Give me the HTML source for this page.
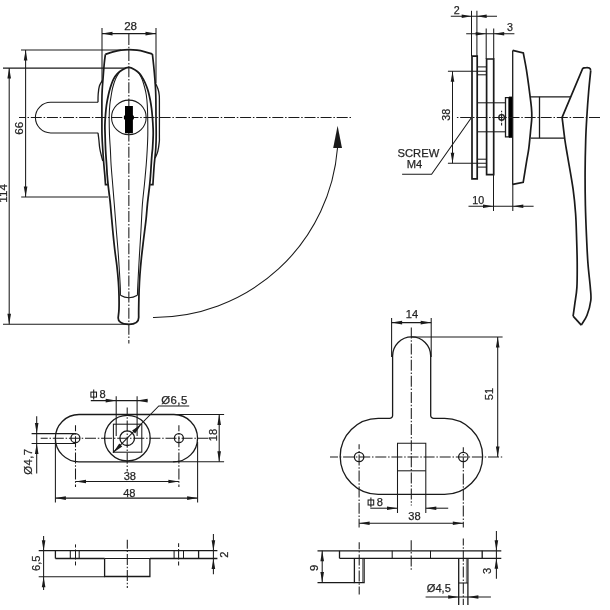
<!DOCTYPE html>
<html><head><meta charset="utf-8"><title>Handle drawing</title>
<style>
html,body{margin:0;padding:0;background:#fff;}
body{width:610px;height:610px;overflow:hidden;}
svg{display:block;filter:grayscale(1);}
svg text{font-family:"Liberation Sans",Arial,sans-serif;fill:#1c241c;stroke:#1c241c;stroke-width:0.25px;}
</style></head><body>
<svg width="610" height="610" viewBox="0 0 610 610" stroke="#1a1a1a" fill="none" stroke-linecap="butt">
<rect x="0" y="0" width="610" height="610" fill="#fff" stroke="none"/>
<!-- handle front view -->
<line x1="102" y1="28" x2="102" y2="83" stroke-width="1.05" />
<line x1="156" y1="28" x2="156" y2="83" stroke-width="1.05" />
<line x1="102" y1="33.6" x2="156" y2="33.6" stroke-width="1.05" />
<polygon points="102.00,33.60 112.50,35.40 112.50,31.80" fill="#1a1a1a" stroke="none"/>
<polygon points="156.00,33.60 145.50,31.80 145.50,35.40" fill="#1a1a1a" stroke="none"/>
<text x="130.6" y="29.7" font-size="11.6" text-anchor="middle">28</text>
<line x1="128.85" y1="34" x2="128.85" y2="343.6" stroke-width="1.05" stroke-dasharray="11 1.8 1.5 1.8" stroke-dashoffset="0"/>
<line x1="19" y1="117.4" x2="352.3" y2="117.4" stroke-width="1.05" stroke-dasharray="11 1.8 1.5 1.8" stroke-dashoffset="4.3"/>
<line x1="21" y1="49.9" x2="121" y2="49.9" stroke-width="1.05" />
<line x1="3" y1="68.1" x2="126" y2="68.1" stroke-width="1.05" />
<line x1="21.2" y1="196.9" x2="108" y2="196.9" stroke-width="1.05" />
<line x1="3" y1="324.3" x2="128" y2="324.3" stroke-width="1.05" />
<line x1="25.6" y1="49.9" x2="25.6" y2="196.9" stroke-width="1.05" />
<polygon points="25.60,49.90 23.80,60.40 27.40,60.40" fill="#1a1a1a" stroke="none"/>
<polygon points="25.60,196.90 27.40,186.40 23.80,186.40" fill="#1a1a1a" stroke="none"/>
<text x="23.2" y="128.3" font-size="11.6" text-anchor="middle" transform="rotate(-90 23.2 128.3)">66</text>
<line x1="9.2" y1="68.1" x2="9.2" y2="324.3" stroke-width="1.05" />
<polygon points="9.20,68.10 7.40,78.60 11.00,78.60" fill="#1a1a1a" stroke="none"/>
<polygon points="9.20,324.30 11.00,313.80 7.40,313.80" fill="#1a1a1a" stroke="none"/>
<text x="6.9" y="193.4" font-size="11.6" text-anchor="middle" transform="rotate(-90 6.9 193.4)">114</text>
<path d="M105.40,54.30 C106.67,53.88 110.40,52.48 113.00,51.80 C115.60,51.12 118.36,50.55 121.00,50.20 C123.64,49.85 126.18,49.70 128.85,49.70 C131.52,49.70 134.31,49.85 137.00,50.20 C139.69,50.55 142.43,51.17 145.00,51.80 C147.57,52.43 151.17,53.63 152.40,54.00" stroke-width="1.8" fill="none" />
<path d="M105.40,54.30 C105.22,55.75 104.70,58.88 104.30,63.00 C103.90,67.12 103.35,74.50 103.00,79.00 C102.65,83.50 102.38,86.50 102.20,90.00 C102.02,93.50 101.95,95.50 101.90,100.00 C101.85,104.50 101.88,111.17 101.90,117.00 C101.92,122.83 101.85,129.50 102.00,135.00 C102.15,140.50 102.48,145.00 102.80,150.00 C103.12,155.00 103.57,160.83 103.90,165.00 C104.23,169.17 104.53,171.72 104.80,175.00 C105.07,178.28 105.38,183.08 105.50,184.70 L107.8,184.7" stroke-width="1.7" fill="none" />
<path d="M152.40,54.00 C152.60,55.83 153.18,60.77 153.60,65.00 C154.02,69.23 154.57,75.23 154.90,79.40 C155.23,83.57 155.43,86.57 155.60,90.00 C155.77,93.43 155.83,95.50 155.90,100.00 C155.97,104.50 155.95,111.17 156.00,117.00 C156.05,122.83 156.23,129.83 156.20,135.00 C156.17,140.17 156.02,144.17 155.80,148.00 C155.58,151.83 155.17,155.17 154.90,158.00 C154.63,160.83 154.43,162.17 154.20,165.00 C153.97,167.83 153.72,171.72 153.50,175.00 C153.28,178.28 153.00,183.08 152.90,184.70 L150.2,184.7" stroke-width="1.7" fill="none" />
<path d="M128.85,324.3 C120.5,324.2 118,321 118.2,317.5  C118.33,316.08 118.87,312.75 119.00,309.00 C119.13,305.25 119.10,299.50 119.00,295.00 C118.90,290.50 118.75,286.83 118.40,282.00 C118.05,277.17 117.50,271.33 116.90,266.00 C116.30,260.67 115.48,255.83 114.80,250.00 C114.12,244.17 113.53,238.62 112.80,231.00 C112.07,223.38 110.93,209.90 110.40,204.30 C109.87,198.70 109.98,200.67 109.60,197.40 C109.22,194.13 108.50,188.43 108.10,184.70 C107.70,180.97 107.45,178.28 107.20,175.00 C106.95,171.72 106.87,169.17 106.60,165.00 C106.33,160.83 105.85,155.00 105.60,150.00 C105.35,145.00 105.22,139.17 105.10,135.00 C104.98,130.83 104.83,128.33 104.90,125.00 C104.97,121.67 105.23,118.33 105.50,115.00 C105.77,111.67 106.02,108.33 106.50,105.00 C106.98,101.67 107.78,97.83 108.40,95.00 C109.02,92.17 109.37,90.60 110.20,88.00 C111.03,85.40 112.20,81.78 113.40,79.40 C114.60,77.02 115.88,75.32 117.40,73.70 C118.92,72.08 120.62,70.75 122.50,69.70 C124.38,68.65 126.65,67.40 128.70,67.40 C130.75,67.40 132.98,68.65 134.80,69.70 C136.62,70.75 138.17,72.08 139.60,73.70 C141.03,75.32 142.27,77.35 143.40,79.40 C144.53,81.45 145.57,83.90 146.40,86.00 C147.23,88.10 147.77,89.67 148.40,92.00 C149.03,94.33 149.68,97.33 150.20,100.00 C150.72,102.67 151.13,105.17 151.50,108.00 C151.87,110.83 152.13,113.67 152.40,117.00 C152.67,120.33 152.97,125.00 153.10,128.00 C153.23,131.00 153.28,131.67 153.20,135.00 C153.12,138.33 152.82,144.72 152.60,148.00 C152.38,151.28 152.13,151.87 151.90,154.70 C151.67,157.53 151.42,161.73 151.20,165.00 C150.98,168.27 150.85,171.02 150.60,174.30 C150.35,177.58 150.23,179.70 149.70,184.70 C149.17,189.70 148.00,198.58 147.40,204.30 C146.80,210.02 146.75,213.05 146.10,219.00 C145.45,224.95 144.28,233.50 143.50,240.00 C142.72,246.50 142.00,252.17 141.40,258.00 C140.80,263.83 140.28,269.67 139.90,275.00 C139.52,280.33 139.30,284.33 139.10,290.00 C138.90,295.67 138.77,304.42 138.70,309.00 C138.63,313.58 138.70,316.08 138.70,317.50 C138.7,321 136.5,324.2 128.85,324.3" stroke-width="1.75" fill="none" />
<path d="M119.50,72.00 C118.83,73.17 116.65,76.33 115.50,79.00 C114.35,81.67 113.30,85.33 112.60,88.00 C111.90,90.67 111.77,92.17 111.30,95.00 C110.83,97.83 110.15,101.33 109.80,105.00 C109.45,108.67 109.25,112.00 109.20,117.00 C109.15,122.00 109.30,129.50 109.50,135.00 C109.70,140.50 110.13,145.00 110.40,150.00 C110.67,155.00 110.72,159.22 111.10,165.00 C111.48,170.78 112.17,178.15 112.70,184.70 C113.23,191.25 113.70,196.75 114.30,204.30 C114.90,211.85 115.62,221.45 116.30,230.00 C116.98,238.55 117.75,246.43 118.40,255.60 C119.05,264.77 119.87,278.40 120.20,285.00 C120.53,291.60 120.37,293.50 120.40,295.20" stroke-width="1.05" fill="none" />
<path d="M138.30,72.00 C138.92,73.17 140.92,76.33 142.00,79.00 C143.08,81.67 144.08,85.33 144.80,88.00 C145.52,90.67 145.88,92.17 146.30,95.00 C146.72,97.83 147.07,101.33 147.30,105.00 C147.53,108.67 147.62,112.00 147.70,117.00 C147.78,122.00 147.88,129.50 147.80,135.00 C147.72,140.50 147.47,145.00 147.20,150.00 C146.93,155.00 146.67,159.22 146.20,165.00 C145.73,170.78 145.03,178.15 144.40,184.70 C143.77,191.25 142.97,196.75 142.40,204.30 C141.83,211.85 141.50,221.45 141.00,230.00 C140.50,238.55 139.93,246.43 139.40,255.60 C138.87,264.77 138.13,278.40 137.80,285.00 C137.47,291.60 137.47,293.50 137.40,295.20" stroke-width="1.05" fill="none" />
<path d="M120.4,295.2 Q128.85,300.3 137.4,295.2" stroke-width="1.05" fill="none" />
<path d="M102.60,80.00 C102.07,81.00 100.13,83.67 99.40,86.00 C98.67,88.33 98.43,91.28 98.20,94.00 C97.97,96.72 98.03,100.92 98.00,102.30" stroke-width="1.3" fill="none" />
<path d="M98.00,132.90 C98.15,134.08 98.62,137.48 98.90,140.00 C99.18,142.52 99.32,145.50 99.70,148.00 C100.08,150.50 100.68,152.83 101.20,155.00 C101.72,157.17 102.53,160.00 102.80,161.00" stroke-width="1.3" fill="none" />
<path d="M155.20,82.50 C155.67,83.58 157.33,86.92 158.00,89.00 C158.67,91.08 158.97,92.83 159.20,95.00 C159.43,97.17 159.37,95.33 159.40,102.00 C159.43,108.67 159.42,128.40 159.40,135.00 C159.38,141.60 159.57,138.87 159.30,141.60 C159.03,144.33 158.48,148.67 157.80,151.40 C157.12,154.13 155.63,156.90 155.20,158.00" stroke-width="1.3" fill="none" />
<path d="M98,102.3 H50.7 A15.3,15.3 0 0 0 50.7,132.9 H98" stroke-width="1.05" fill="none" />
<circle cx="128.85" cy="117.4" r="17.3" fill="none" stroke-width="1.05"/>
<path d="M125.0,106.1 H132.9 V115 L133.9,116.2 V118.8 L132.9,120 V133.3 H125.0 V120 L123.9,118.8 V116.2 L125.0,115 Z" fill="#000" stroke="none"/>
<path d="M153,317.4 A184,184 0 0 0 337.5,148" stroke-width="1.05" fill="none" />
<polygon points="337.60,125.80 333.20,147.90 342.00,147.90" fill="#1a1a1a" stroke="none"/>
<!-- side view -->
<line x1="471.5" y1="10.8" x2="471.5" y2="56" stroke-width="1.05" />
<line x1="476.9" y1="10.8" x2="476.9" y2="56" stroke-width="1.05" />
<line x1="450.8" y1="16.3" x2="497" y2="16.3" stroke-width="1.05" />
<polygon points="471.50,16.30 461.70,14.50 461.70,18.10" fill="#1a1a1a" stroke="none"/>
<polygon points="476.90,16.30 486.70,18.10 486.70,14.50" fill="#1a1a1a" stroke="none"/>
<text x="456.8" y="13.7" font-size="10.7" text-anchor="middle">2</text>
<line x1="486.2" y1="28.5" x2="486.2" y2="59" stroke-width="1.05" />
<line x1="493.7" y1="28.5" x2="493.7" y2="59" stroke-width="1.05" />
<line x1="466.2" y1="33.8" x2="514.4" y2="33.8" stroke-width="1.05" />
<polygon points="486.20,33.80 475.70,32.00 475.70,35.60" fill="#1a1a1a" stroke="none"/>
<polygon points="493.70,33.80 504.20,35.60 504.20,32.00" fill="#1a1a1a" stroke="none"/>
<text x="510.1" y="30.8" font-size="10.7" text-anchor="middle">3</text>
<path d="M472.0,178.9 V56.1 H477.2 V178.9 Z" stroke-width="1.7" fill="none" />
<path d="M486.6,174.6 V59 H493.7 V174.6 Z" stroke-width="1.7" fill="none" />
<line x1="477.2" y1="66.9" x2="486.4" y2="66.9" stroke-width="1.05" />
<line x1="477.2" y1="74.8" x2="486.4" y2="74.8" stroke-width="1.05" />
<line x1="477.2" y1="159.2" x2="486.4" y2="159.2" stroke-width="1.05" />
<line x1="477.2" y1="167.1" x2="486.4" y2="167.1" stroke-width="1.05" />
<line x1="477.2" y1="102.8" x2="505.5" y2="102.8" stroke-width="1.05" />
<line x1="477.2" y1="131.8" x2="505.5" y2="131.8" stroke-width="1.05" />
<path d="M505.5,97.7 H509 V136.9 H505.5 Z" stroke-width="1.3" fill="none" />
<rect x="508.9" y="96.6" width="3.4" height="41.2" fill="#000" stroke="none"/>
<circle cx="501.6" cy="117.4" r="2.8" stroke-width="1.3"/>
<line x1="501.6" y1="110.7" x2="501.6" y2="112.2" stroke-width="1.05" />
<line x1="501.6" y1="113.4" x2="501.6" y2="121.4" stroke-width="1.05" />
<line x1="501.6" y1="122.8" x2="501.6" y2="125.4" stroke-width="1.05" />
<line x1="447.9" y1="71.2" x2="486.2" y2="71.2" stroke-width="1.05" />
<line x1="447.9" y1="163.2" x2="486.2" y2="163.2" stroke-width="1.05" />
<line x1="452.5" y1="71.2" x2="452.5" y2="163.2" stroke-width="1.05" />
<polygon points="452.50,71.20 450.70,81.70 454.30,81.70" fill="#1a1a1a" stroke="none"/>
<polygon points="452.50,163.20 454.30,152.70 450.70,152.70" fill="#1a1a1a" stroke="none"/>
<text x="450.2" y="114.8" font-size="10.7" text-anchor="middle" transform="rotate(-90 450.2 114.8)">38</text>
<line x1="456.9" y1="117.4" x2="600" y2="117.4" stroke-width="1.05" stroke-dasharray="11 1.8 1.5 1.8" stroke-dashoffset="12.8"/>
<path d="M402.1,174.3 H431.6 L471.5,117.5" stroke-width="1.05" fill="none" />
<text x="418.4" y="157" font-size="11.2" text-anchor="middle">SCREW</text>
<text x="414.5" y="168.4" font-size="11.2" text-anchor="middle">M4</text>
<line x1="493.5" y1="174.6" x2="493.5" y2="211" stroke-width="1.05" />
<line x1="512.8" y1="184" x2="512.8" y2="211" stroke-width="1.05" />
<line x1="468.5" y1="206.2" x2="533.6" y2="206.2" stroke-width="1.05" />
<polygon points="493.50,206.20 483.00,204.40 483.00,208.00" fill="#1a1a1a" stroke="none"/>
<polygon points="512.80,206.20 523.30,208.00 523.30,204.40" fill="#1a1a1a" stroke="none"/>
<text x="478.2" y="204" font-size="10.7" text-anchor="middle">10</text>
<line x1="512.7" y1="50.4" x2="512.7" y2="184.4" stroke-width="1.3" />
<path d="M512.7,50.4 L523.3,53  C523.82,55.78 525.38,63.37 526.40,69.70 C527.42,76.03 528.57,84.72 529.40,91.00 C530.23,97.28 531.00,103.00 531.40,107.40 C531.80,111.80 531.90,113.85 531.80,117.40 C531.70,120.95 531.30,123.53 530.80,128.70 C530.30,133.87 529.50,142.97 528.80,148.40 C528.10,153.83 527.53,155.65 526.60,161.30 C525.67,166.95 523.77,178.80 523.20,182.30 L512.7,184.4" stroke-width="1.7" fill="none" />
<line x1="530.3" y1="96.8" x2="570.8" y2="96.8" stroke-width="1.3" />
<line x1="530.8" y1="138.1" x2="565" y2="138.1" stroke-width="1.3" />
<line x1="539.5" y1="96.8" x2="539.5" y2="138.1" stroke-width="1.3" />
<path d="M573.1,316.1 L581.3,325.1" stroke-width="1.7" fill="none" />
<path d="M590.70,70.80 C590.37,74.17 589.35,83.27 588.70,91.00 C588.05,98.73 587.30,109.03 586.80,117.20 C586.30,125.37 585.98,130.73 585.70,140.00 C585.42,149.27 585.15,161.87 585.10,172.80 C585.05,183.73 585.18,195.40 585.40,205.60 C585.62,215.80 585.98,224.47 586.40,234.00 C586.82,243.53 587.25,253.90 587.90,262.80 C588.55,271.70 589.82,281.12 590.30,287.40 C590.78,293.68 591.35,295.87 590.80,300.50 C590.25,305.13 588.58,311.10 587.00,315.20 C585.42,319.30 582.25,323.45 581.30,325.10" stroke-width="1.7" fill="none" />
<path d="M590.7,70.8 C590.6,67.5 588.5,67.5 586.5,67.6 C584.5,67.6 583.4,67.6 582.6,68.6 L562.1,117.3" stroke-width="1.7" fill="none" />
<path d="M562.10,117.30 C562.57,121.08 563.98,133.48 564.90,140.00 C565.82,146.52 566.23,148.20 567.60,156.40 C568.97,164.60 571.77,179.63 573.10,189.20 C574.43,198.77 575.02,205.60 575.60,213.80 C576.18,222.00 576.33,230.23 576.60,238.40 C576.87,246.57 577.15,254.63 577.20,262.80 C577.25,270.97 577.30,280.57 576.90,287.40 C576.50,294.23 575.43,299.02 574.80,303.80 C574.17,308.58 573.38,314.05 573.10,316.10" stroke-width="1.7" fill="none" />
<!-- small plate -->
<path d="M79.0,414.5 H173.9 A23.65,23.65 0 0 1 173.9,461.8 H79.0 A23.65,23.65 0 0 1 79.0,414.5 Z" stroke-width="1.3" fill="none" />
<circle cx="75.4" cy="438.2" r="4.5" stroke-width="1.3"/>
<circle cx="178.9" cy="438.2" r="4.5" stroke-width="1.3"/>
<circle cx="127.4" cy="438.2" r="22.8" stroke-width="1.3"/>
<rect x="113.4" y="424.2" width="28.4" height="28" stroke-width="1.05"/>
<circle cx="127.2" cy="438.2" r="7.3" stroke-width="1.3"/>
<line x1="40.7" y1="438.2" x2="208.4" y2="438.2" stroke-width="1.05" stroke-dasharray="11 1.8 1.5 1.8" stroke-dashoffset="4"/>
<line x1="127.2" y1="407.5" x2="127.2" y2="471.4" stroke-width="1.05" stroke-dasharray="11 1.8 1.5 1.8" stroke-dashoffset="3"/>
<line x1="75.5" y1="425.2" x2="75.5" y2="487" stroke-width="1.05" stroke-dasharray="11 1.8 1.5 1.8" stroke-dashoffset="5"/>
<line x1="178.9" y1="425.2" x2="178.9" y2="487" stroke-width="1.05" stroke-dasharray="11 1.8 1.5 1.8" stroke-dashoffset="5"/>
<line x1="116.2" y1="396.2" x2="116.2" y2="436" stroke-width="1.05" />
<line x1="137.1" y1="396.2" x2="137.1" y2="436" stroke-width="1.05" />
<line x1="90.8" y1="400.6" x2="147.4" y2="400.6" stroke-width="1.05" />
<polygon points="116.20,400.60 105.70,398.80 105.70,402.40" fill="#1a1a1a" stroke="none"/>
<polygon points="137.10,400.60 147.60,402.40 147.60,398.80" fill="#1a1a1a" stroke="none"/>
<rect x="90.9" y="392.1" width="5.6" height="5" stroke-width="1.05"/>
<line x1="93.7" y1="389.6" x2="93.7" y2="399.4" stroke-width="1.05" />
<text x="102.6" y="398.4" font-size="11.1" text-anchor="middle">8</text>
<path d="M189.2,405.9 H158.8 L113,452.7" stroke-width="1.05" fill="none" />
<polygon points="141.40,424.30 132.14,430.59 135.11,433.56" fill="#1a1a1a" stroke="none"/>
<polygon points="113.00,452.70 122.26,446.41 119.29,443.44" fill="#1a1a1a" stroke="none"/>
<text x="161.2" y="404.4" font-size="11.4" letter-spacing="0.45">Ø6,5</text>
<line x1="173" y1="414.5" x2="224.1" y2="414.5" stroke-width="1.05" />
<line x1="173" y1="461.8" x2="224.1" y2="461.8" stroke-width="1.05" />
<line x1="219.2" y1="414.5" x2="219.2" y2="461.8" stroke-width="1.05" />
<polygon points="219.20,414.50 217.40,425.00 221.00,425.00" fill="#1a1a1a" stroke="none"/>
<polygon points="219.20,461.80 221.00,451.30 217.40,451.30" fill="#1a1a1a" stroke="none"/>
<text x="217" y="435" font-size="11.1" text-anchor="middle" transform="rotate(-90 217 435)">18</text>
<line x1="31.6" y1="433.6" x2="75" y2="433.6" stroke-width="1.05" />
<line x1="31.6" y1="443.5" x2="75" y2="443.5" stroke-width="1.05" />
<line x1="36.7" y1="416.3" x2="36.7" y2="473.4" stroke-width="1.05" />
<polygon points="36.70,433.60 38.50,423.10 34.90,423.10" fill="#1a1a1a" stroke="none"/>
<polygon points="36.70,443.50 34.90,454.00 38.50,454.00" fill="#1a1a1a" stroke="none"/>
<text x="31.6" y="461.6" font-size="11.3" letter-spacing="0.4" text-anchor="middle" transform="rotate(-90 31.6 461.6)">Ø4,7</text>
<line x1="75.5" y1="481.5" x2="178.9" y2="481.5" stroke-width="1.05" />
<polygon points="75.50,481.50 86.00,483.30 86.00,479.70" fill="#1a1a1a" stroke="none"/>
<polygon points="178.90,481.50 168.40,479.70 168.40,483.30" fill="#1a1a1a" stroke="none"/>
<text x="129.8" y="479.8" font-size="11.1" text-anchor="middle">38</text>
<line x1="55.4" y1="440" x2="55.4" y2="502.5" stroke-width="1.05" />
<line x1="197.6" y1="442" x2="197.6" y2="502.5" stroke-width="1.05" />
<line x1="55.4" y1="498.1" x2="197.6" y2="498.1" stroke-width="1.05" />
<polygon points="55.40,498.10 65.90,499.90 65.90,496.30" fill="#1a1a1a" stroke="none"/>
<polygon points="197.60,498.10 187.10,496.30 187.10,499.90" fill="#1a1a1a" stroke="none"/>
<text x="129.3" y="496.8" font-size="11.1" text-anchor="middle">48</text>
<!-- small plate side -->
<line x1="38.7" y1="550.7" x2="217.4" y2="550.7" stroke-width="1.3" />
<line x1="55.4" y1="558.5" x2="104.6" y2="558.5" stroke-width="1.3" />
<line x1="149.9" y1="558.5" x2="217.4" y2="558.5" stroke-width="1.3" />
<line x1="104.6" y1="558.5" x2="149.9" y2="558.5" stroke-width="1.05" />
<line x1="55.4" y1="550.7" x2="55.4" y2="558.5" stroke-width="1.3" />
<line x1="198.6" y1="550.7" x2="198.6" y2="558.5" stroke-width="1.3" />
<path d="M104.6,558.5 V576.5 H149.9 V558.5" stroke-width="1.3" fill="none" />
<line x1="38.7" y1="576.8" x2="104.6" y2="576.8" stroke-width="1.05" />
<line x1="70.3" y1="550.7" x2="70.3" y2="558.5" stroke-width="1.05" />
<line x1="79.2" y1="550.7" x2="79.2" y2="558.5" stroke-width="1.05" />
<line x1="174.1" y1="550.7" x2="174.1" y2="558.5" stroke-width="1.05" />
<line x1="183.5" y1="550.7" x2="183.5" y2="558.5" stroke-width="1.05" />
<line x1="75.5" y1="544.4" x2="75.5" y2="547.5" stroke-width="1.05" />
<line x1="75.5" y1="549.5" x2="75.5" y2="559.5" stroke-width="1.05" />
<line x1="75.5" y1="561.5" x2="75.5" y2="565.4" stroke-width="1.05" />
<line x1="178.6" y1="543.2" x2="178.6" y2="547" stroke-width="1.05" />
<line x1="178.6" y1="549" x2="178.6" y2="559.5" stroke-width="1.05" />
<line x1="178.6" y1="561.5" x2="178.6" y2="565.4" stroke-width="1.05" />
<line x1="127.3" y1="539.8" x2="127.3" y2="588" stroke-width="1.05" stroke-dasharray="11 1.8 1.5 1.8" stroke-dashoffset="2"/>
<line x1="43.6" y1="535.9" x2="43.6" y2="590" stroke-width="1.05" />
<polygon points="43.60,550.70 45.40,540.20 41.80,540.20" fill="#1a1a1a" stroke="none"/>
<polygon points="43.60,576.80 41.80,587.30 45.40,587.30" fill="#1a1a1a" stroke="none"/>
<text x="40.3" y="563.3" font-size="11.1" text-anchor="middle" transform="rotate(-90 40.3 563.3)">6,5</text>
<line x1="213.4" y1="533.9" x2="213.4" y2="574.3" stroke-width="1.05" />
<polygon points="213.40,550.70 215.20,540.20 211.60,540.20" fill="#1a1a1a" stroke="none"/>
<polygon points="213.40,558.50 211.60,569.00 215.20,569.00" fill="#1a1a1a" stroke="none"/>
<text x="228.2" y="554.6" font-size="11.1" text-anchor="middle" transform="rotate(-90 228.2 554.6)">2</text>
<!-- big plate -->
<path d="M392.6,415.4 V355.9 A19.05,19.05 0 0 1 430.7,355.9 V415.4 A3,3 0 0 0 433.7,418.4 H444.6 A38.0,38.0 0 0 1 444.6,494.4 H378.2 A38.0,38.0 0 0 1 378.2,418.4 H389.6 A3,3 0 0 0 392.6,415.4 Z" stroke-width="1.3" fill="none" />
<circle cx="359.1" cy="457" r="4.7" stroke-width="1.3"/>
<circle cx="463.3" cy="457" r="4.7" stroke-width="1.3"/>
<path d="M397.5,513 V443.3 H425.8 V513" stroke-width="1.05" fill="none" />
<line x1="397.5" y1="470.8" x2="425.8" y2="470.8" stroke-width="1.05" />
<line x1="411.3" y1="327.5" x2="411.3" y2="505.5" stroke-width="1.05" stroke-dasharray="11 1.8 1.5 1.8" stroke-dashoffset="0"/>
<line x1="330" y1="457" x2="502.2" y2="457" stroke-width="1.05" stroke-dasharray="11 1.8 1.5 1.8" stroke-dashoffset="3"/>
<line x1="359.1" y1="444.3" x2="359.1" y2="527.5" stroke-width="1.05" stroke-dasharray="11 1.8 1.5 1.8" stroke-dashoffset="6"/>
<line x1="463.3" y1="447.2" x2="463.3" y2="527.5" stroke-width="1.05" stroke-dasharray="11 1.8 1.5 1.8" stroke-dashoffset="6"/>
<line x1="391.6" y1="318.1" x2="391.6" y2="357" stroke-width="1.05" />
<line x1="431.2" y1="318.1" x2="431.2" y2="357" stroke-width="1.05" />
<line x1="391.6" y1="322.6" x2="431.2" y2="322.6" stroke-width="1.05" />
<polygon points="391.60,322.60 402.10,324.40 402.10,320.80" fill="#1a1a1a" stroke="none"/>
<polygon points="431.20,322.60 420.70,320.80 420.70,324.40" fill="#1a1a1a" stroke="none"/>
<text x="412" y="318.1" font-size="11.1" text-anchor="middle">14</text>
<line x1="411.3" y1="336.9" x2="502.6" y2="336.9" stroke-width="1.05" />
<line x1="497.7" y1="336.9" x2="497.7" y2="457" stroke-width="1.05" />
<polygon points="497.70,336.90 495.90,347.40 499.50,347.40" fill="#1a1a1a" stroke="none"/>
<polygon points="497.70,457.00 499.50,446.50 495.90,446.50" fill="#1a1a1a" stroke="none"/>
<text x="492.5" y="394" font-size="11.1" text-anchor="middle" transform="rotate(-90 492.5 394)">51</text>
<line x1="370.3" y1="508.2" x2="397.5" y2="508.2" stroke-width="1.05" />
<line x1="425.8" y1="508.2" x2="448.2" y2="508.2" stroke-width="1.05" />
<polygon points="397.50,508.20 387.00,506.40 387.00,510.00" fill="#1a1a1a" stroke="none"/>
<polygon points="425.80,508.20 436.30,510.00 436.30,506.40" fill="#1a1a1a" stroke="none"/>
<rect x="368.1" y="500" width="5.6" height="5" stroke-width="1.05"/>
<line x1="370.9" y1="497.5" x2="370.9" y2="507.3" stroke-width="1.05" />
<text x="379.8" y="506.2" font-size="11.1" text-anchor="middle">8</text>
<line x1="359.1" y1="523.2" x2="463.3" y2="523.2" stroke-width="1.05" />
<polygon points="359.10,523.20 369.60,525.00 369.60,521.40" fill="#1a1a1a" stroke="none"/>
<polygon points="463.30,523.20 452.80,521.40 452.80,525.00" fill="#1a1a1a" stroke="none"/>
<text x="414.5" y="520.2" font-size="11.1" text-anchor="middle">38</text>
<!-- big plate side -->
<line x1="317.5" y1="550.8" x2="501.3" y2="550.8" stroke-width="1.3" />
<line x1="339.5" y1="558.3" x2="501.3" y2="558.3" stroke-width="1.3" />
<line x1="339.5" y1="550.8" x2="339.5" y2="558.3" stroke-width="1.3" />
<line x1="482.2" y1="550.8" x2="482.2" y2="558.3" stroke-width="1.3" />
<line x1="392.2" y1="550.8" x2="392.2" y2="558.3" stroke-width="1.05" />
<line x1="430.5" y1="550.8" x2="430.5" y2="558.3" stroke-width="1.05" />
<path d="M354.4,558.3 V582.6 H364.1 V558.3" stroke-width="1.3" fill="none" />
<line x1="317.5" y1="582.6" x2="354.4" y2="582.6" stroke-width="1.05" />
<path d="M458.7,558.3 V605" stroke-width="1.3" fill="none" />
<path d="M467.9,558.3 V605" stroke-width="1.3" fill="none" />
<line x1="458.7" y1="583" x2="467.9" y2="583" stroke-width="1.05" />
<line x1="466.4" y1="558.3" x2="466.4" y2="583" stroke-width="0.6" />
<line x1="362.6" y1="558.3" x2="362.6" y2="582.6" stroke-width="0.6" />
<line x1="359.2" y1="542.3" x2="359.2" y2="594.4" stroke-width="1.05" stroke-dasharray="11 1.8 1.5 1.8" stroke-dashoffset="4"/>
<line x1="463.3" y1="538.4" x2="463.3" y2="605" stroke-width="1.05" stroke-dasharray="11 1.8 1.5 1.8" stroke-dashoffset="4"/>
<line x1="411.2" y1="540.3" x2="411.2" y2="569.8" stroke-width="1.05" stroke-dasharray="11 1.8 1.5 1.8" stroke-dashoffset="1"/>
<line x1="322.2" y1="550.8" x2="322.2" y2="582.6" stroke-width="1.05" />
<polygon points="322.20,550.80 320.40,561.30 324.00,561.30" fill="#1a1a1a" stroke="none"/>
<polygon points="322.20,582.60 324.00,572.10 320.40,572.10" fill="#1a1a1a" stroke="none"/>
<text x="318.2" y="567.9" font-size="11.1" text-anchor="middle" transform="rotate(-90 318.2 567.9)">9</text>
<line x1="496.4" y1="531.1" x2="496.4" y2="578.7" stroke-width="1.05" />
<polygon points="496.40,550.80 498.20,540.30 494.60,540.30" fill="#1a1a1a" stroke="none"/>
<polygon points="496.40,558.30 494.60,568.80 498.20,568.80" fill="#1a1a1a" stroke="none"/>
<text x="491.2" y="570.8" font-size="11.1" text-anchor="middle" transform="rotate(-90 491.2 570.8)">3</text>
<line x1="425.6" y1="597" x2="490.9" y2="597" stroke-width="1.05" />
<polygon points="458.70,597.00 448.20,595.20 448.20,598.80" fill="#1a1a1a" stroke="none"/>
<polygon points="467.90,597.00 478.40,598.80 478.40,595.20" fill="#1a1a1a" stroke="none"/>
<text x="426.8" y="591.5" font-size="11.1" text-anchor="start">Ø4,5</text>
</svg>
</body></html>
